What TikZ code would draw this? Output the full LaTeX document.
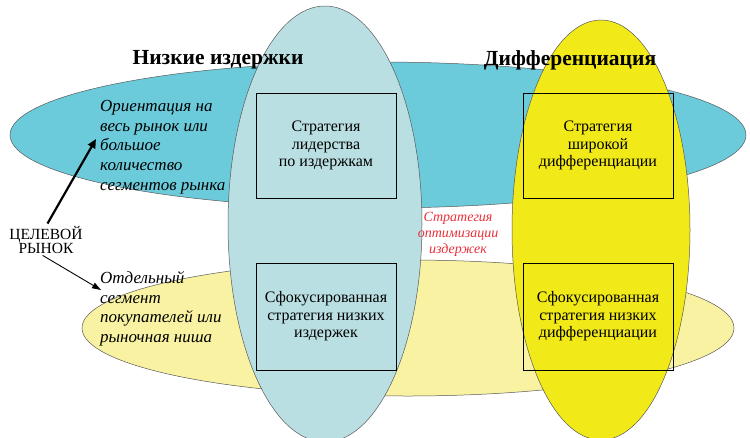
\documentclass[tikz,border=0pt]{standalone}
\usepackage{fontspec}
\setmainfont{Liberation Serif}
\usepackage{tikz}
\usetikzlibrary{arrows.meta}
\definecolor{wideblue}{HTML}{6BCBDB}
\definecolor{paleblue}{HTML}{BADFE3}
\definecolor{paleyellow}{HTML}{F8F2A2}
\definecolor{brightyellow}{HTML}{F2E918}
\definecolor{optred}{HTML}{E8303A}
\tikzset{
  outline/.style={draw=black!65, line width=0.5pt},
  stratbox/.style={draw=black, line width=0.6pt, align=center, inner sep=0pt,
    font=\fontsize{16}{17.5}\selectfont},
  marketnote/.style={align=left, inner sep=0pt, font=\itshape\fontsize{17}{19.7}\selectfont},
  header/.style={inner sep=0pt, font=\bfseries\fontsize{21.5}{22}\selectfont},
}
\begin{document}
\begin{tikzpicture}[x=1pt, y=-1pt]
				\useasboundingbox (0,0) rectangle (750,437);
				\clip (0,0) rectangle (750,437);
				% market segments
				\draw[outline, fill=wideblue] (378,135) ellipse [x radius=368pt, y radius=73pt];
				\draw[outline, fill=paleyellow] (408,328) ellipse [x radius=326pt, y radius=68pt];
				% competitive advantage
				\draw[outline, fill=paleblue] (325,224) ellipse [x radius=97pt, y radius=218pt];
				\draw[outline, fill=brightyellow] (601,230) ellipse [x radius=89pt, y radius=210pt];
				\node[header] (lowcost) at (218,60) {Низкие издержки};
				\node[header] (diff) at (570,60) {Дифференциация};
				\node[stratbox, minimum width=140pt, minimum height=105pt] (lead) at (326,145.5) {Стратегия\\лидерства\\по издержкам};
				\node[stratbox, minimum width=140pt, minimum height=107pt] (focuslow) at (326,316.5) {Сфокусированная\\стратегия низких\\издержек};
				\node[stratbox, minimum width=150pt, minimum height=105pt] (broad) at (598,145.5) {Стратегия\\широкой\\дифференциации};
				\node[stratbox, minimum width=150pt, minimum height=107pt] (focusdiff) at (598,316.5) {Сфокусированная\\стратегия низких\\дифференциации};
				\node[inner sep=0pt, align=center, text=optred, font=\itshape\fontsize{14}{16}\selectfont] (best) at (458,234) {Стратегия\\оптимизации\\издержек};
				\node[marketnote, anchor=north west] (wide) at (100,100) {Ориентация на\\весь рынок или\\большое\\количество\\сегментов рынка};
				\node[marketnote, anchor=north west] (niche) at (100,271) {Отдельный\\сегмент\\покупателей или\\рыночная ниша};
				\node[inner sep=0pt, align=center, font=\fontsize{15.5}{14}\selectfont] (target) at (46,240) {ЦЕЛЕВОЙ\\РЫНОК};
				\coordinate (widetip) at (96,139);
				\coordinate (nichetip) at (101,290);
				\draw[line width=2.2pt, -{Triangle[length=9pt, width=8pt]}, shorten <=3pt] (target.north) -- (widetip);
				\draw[line width=0.9pt, -{Triangle[length=9pt, width=6pt]}, shorten <=3pt] ([xshift=-6pt]target.south) -- (nichetip);
			\end{tikzpicture}
\end{document}
